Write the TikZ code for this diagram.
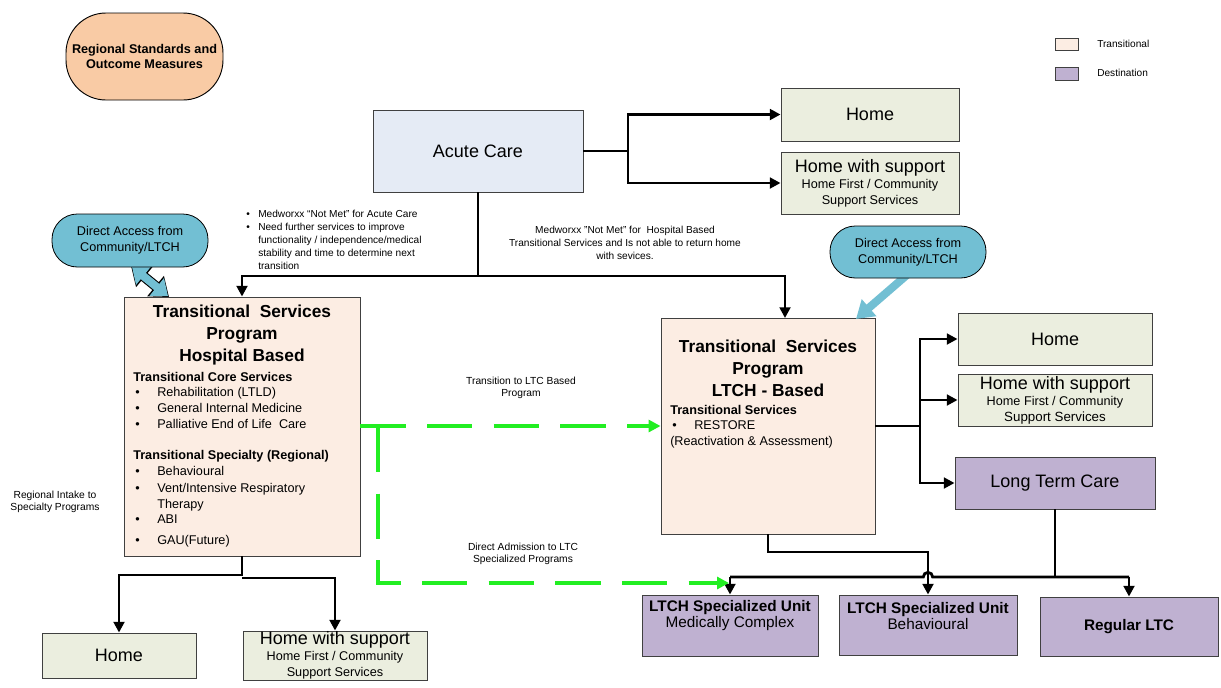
\documentclass[tikz,border=0pt]{standalone}
\usepackage{fontspec}
\setmainfont{Liberation Sans}
\usetikzlibrary{arrows.meta}
\definecolor{peach}{HTML}{F9CBA5}
\definecolor{transfill}{HTML}{FCEDE3}
\definecolor{acutefill}{HTML}{E5EBF5}
\definecolor{homefill}{HTML}{EBEEDF}
\definecolor{destfill}{HTML}{BFB1D1}
\definecolor{bubble}{HTML}{72BFD3}
\definecolor{edge}{HTML}{404040}
\definecolor{dashgreen}{HTML}{22EE22}
\tikzset{
 box/.style={draw=edge, line width=0.7pt, inner sep=0pt, align=center},
 transbox/.style={box, fill=transfill},
 acutebox/.style={box, fill=acutefill},
 homebox/.style={box, fill=homefill},
 destbox/.style={box, fill=destfill},
 bubblebox/.style={draw=black, line width=0.6pt, fill=bubble, rounded corners=19pt, inner sep=0pt, align=center, font=\fontsize{9.5}{12}\selectfont, minimum width=117pt},
 bigtext/.style={font=\fontsize{13.5}{16}\selectfont},
 titletext/.style={font=\bfseries\fontsize{13}{16.5}\selectfont, align=center, inner sep=0pt},
 itemtext/.style={inner sep=0pt, anchor=base west, font=\fontsize{9.5}{12}\selectfont},
 headtext/.style={itemtext, font=\bfseries\fontsize{9.5}{12}\selectfont},
 smalltext/.style={inner sep=0pt, font=\fontsize{7.7}{9}\selectfont, align=center},
 notetext/.style={inner sep=0pt, font=\fontsize{7.6}{9.75}\selectfont, align=center},
 smallleft/.style={inner sep=0pt, anchor=base west, font=\fontsize{7.6}{9.75}\selectfont},
 legendtext/.style={inner sep=0pt, anchor=west, font=\fontsize{7.6}{9}\selectfont},
 conn/.style={line width=2.1pt, draw=black},
 flow/.style={conn, -{Triangle[length=8pt,width=8pt]}},
 gline/.style={draw=dashgreen, line width=2.3pt, dash pattern=on 34pt off 16pt},
 gflow/.style={gline, -{Triangle[length=9pt,width=9pt]}},
}
\begin{document}
\begin{tikzpicture}[x=0.75pt,y=-0.75pt]
\fill[white] (0,0) rectangle (1221,687);
\useasboundingbox (0,0) rectangle (1221,687);

% ---------- top left
\node[box, draw=black, fill=peach, rounded corners=30pt, minimum width=117.75pt, minimum height=65.25pt, font=\bfseries\fontsize{9.5}{11.25}\selectfont] (std) at (144.5,56.5) {Regional Standards and\\Outcome Measures};

% ---------- legend
\node[transbox, minimum width=17.25pt, minimum height=9pt] (legT) at (1066.5,44) {};
\node[legendtext] (legTt) at (1097,44) {Transitional};
\node[destbox, minimum width=17.25pt, minimum height=9.75pt] (legD) at (1066.5,73.5) {};
\node[legendtext] (legDt) at (1097,73) {Destination};

% ---------- acute care and top right
\node[acutebox, minimum width=157.5pt, minimum height=61.5pt, bigtext] (acute) at (478,151) {Acute Care};
\node[homebox, minimum width=133.5pt, minimum height=39.75pt, bigtext] (home1) at (870,114.5) {Home};
\node[homebox, minimum width=133.5pt, minimum height=46.5pt] (hws1) at (870,183) {\fontsize{13.5}{16}\selectfont Home with support\\\fontsize{9.5}{12.75}\selectfont Home First / Community\\\fontsize{9.5}{15}\selectfont Support Services};

% ---------- notes
\node[smallleft] (n1b) at (246,217) {\textbullet};
\node[smallleft] (n1) at (258,217) {Medworxx “Not Met” for Acute Care};
\node[smallleft] (n2b) at (246,230) {\textbullet};
\node[smallleft] (n2) at (258,230) {Need further services to improve};
\node[smallleft] (n3) at (258,243) {functionality / independence/medical};
\node[smallleft] (n4) at (258,256) {stability and time to determine next};
\node[smallleft] (n5) at (258,269) {transition};
\node[notetext] (mnote) at (625,243) {Medworxx "Not Met" for~ Hospital Based\\Transitional Services and Is not able to return home\\with sevices.};

% ---------- hospital based program
\node[transbox, minimum width=177pt, minimum height=194.25pt] (hosp) at (242,426.5) {};
\node[titletext] (hospT) at (242,335) {Transitional~~Services\\Program\\Hospital Based};
\node[headtext] (hh1) at (133,381) {Transitional Core Services};
\node[itemtext] (hb1) at (135,396) {\textbullet};
\node[itemtext] (hi1) at (157,396) {Rehabilitation (LTLD)};
\node[itemtext] (hb2) at (135,412) {\textbullet};
\node[itemtext] (hi2) at (157,412) {General Internal Medicine};
\node[itemtext] (hb3) at (135,428) {\textbullet};
\node[itemtext] (hi3) at (157,428) {Palliative End of Life~ Care};
\node[headtext] (hh2) at (133,459) {Transitional Specialty (Regional)};
\node[itemtext] (hb4) at (135,475) {\textbullet};
\node[itemtext] (hi4) at (157,475) {Behavioural};
\node[itemtext] (hb5) at (135,492) {\textbullet};
\node[itemtext] (hi5) at (157,492) {Vent/Intensive Respiratory};
\node[itemtext] (hi5b) at (157,508) {Therapy};
\node[itemtext] (hb6) at (135,523) {\textbullet};
\node[itemtext] (hi6) at (157,523) {ABI};
\node[itemtext] (hb7) at (135,544) {\textbullet};
\node[itemtext] (hi7) at (157,544) {GAU(Future)};

\node[smalltext] (intake) at (55,502) {Regional Intake to\\Specialty Programs};

% ---------- LTCH based program
\node[transbox, minimum width=160.5pt, minimum height=162pt] (ltch) at (768,426) {};
\node[titletext] (ltchT) at (768,368) {Transitional~~Services\\Program\\LTCH - Based};
\node[headtext] (lh1) at (670,414) {Transitional Services};
\node[itemtext] (lb1) at (672,429) {\textbullet};
\node[itemtext] (li1) at (694,429) {RESTORE};
\node[itemtext] (li2) at (670,445) {(Reactivation \& Assessment)};

% ---------- right destinations
\node[homebox, minimum width=145.5pt, minimum height=39pt, bigtext] (home2) at (1055,339) {Home};
\node[homebox, minimum width=145.5pt, minimum height=39pt] (hws2) at (1055,400) {\fontsize{13.5}{16}\selectfont Home with support\\\fontsize{9.5}{12}\selectfont Home First / Community\\Support Services};
\node[destbox, minimum width=150pt, minimum height=39pt, bigtext] (ltc) at (1055,483) {Long Term Care};

% ---------- bottom destinations
\node[destbox, minimum width=132pt, minimum height=45.75pt] (spec1) at (730,625.5) {};
\node[align=center, inner sep=0pt] (spec1t) at (730,616) {\bfseries\fontsize{11.5}{14}\selectfont LTCH Specialized Unit\\\mdseries\fontsize{11.5}{14.5}\selectfont Medically Complex};
\node[destbox, minimum width=133.5pt, minimum height=45pt] (spec2) at (928,625) {};
\node[align=center, inner sep=0pt] (spec2t) at (928,616) {\bfseries\fontsize{11.5}{14}\selectfont LTCH Specialized Unit\\\mdseries\fontsize{11.5}{14.5}\selectfont Behavioural};
\node[destbox, minimum width=133.5pt, minimum height=44.25pt, font=\bfseries\fontsize{11.5}{14}\selectfont] (spec3) at (1129,626.5) {Regular LTC};

\node[homebox, minimum width=115.5pt, minimum height=33.75pt, bigtext] (home3) at (119,655.5) {Home};
\node[homebox, minimum width=138pt, minimum height=36.75pt] (hws3) at (335,655.5) {\fontsize{13.5}{16}\selectfont Home with support\\\fontsize{9.5}{12.75}\selectfont Home First / Community\\\fontsize{9.5}{12}\selectfont Support Services};

% ---------- labels on green paths
\node[smalltext] (lab1) at (521,388) {Transition to LTC Based\\Program};
\node[smalltext] (lab2) at (523,554) {Direct Admission to LTC\\Specialized Programs};

% ---------- connectors
\coordinate (aj) at (628,151);
\draw[conn] (acute.east) -- (aj);
\draw[flow] (aj) |- (home1.west);
\draw[flow] (aj) |- (hws1.west);

\coordinate (bj) at (478,276);
\coordinate (ltchin) at (785,318);
\draw[conn] (acute.south) -- (bj);
\draw[flow] (bj) -| (hosp.north);
\draw[flow] (bj) -| (ltchin);

\coordinate (rj) at (920,426);
\draw[conn] (ltch.east |- rj) -- (rj);
\draw[flow] (rj) |- (home2.west);
\draw[flow] (rj) |- (hws2.west);
\draw[flow] (rj) |- (ltc.west);

\coordinate (hj1) at (242,575);
\coordinate (hj2) at (242,578);
\draw[flow] (hosp.south) -- (hj1) -| (home3.north);
\draw[flow] (hj2) -| (hws3.north);

\coordinate (lj) at (768,552);
\coordinate (bl) at (730,577);
\coordinate (br) at (1129,577);
\coordinate (hopstart) at (923.3,577);
\draw[conn] (ltc.south) -- (ltc.south |- bl);
\draw[conn] (bl) -- (hopstart) arc[start angle=180,end angle=0,radius=3.5pt] -- (br);
\draw[flow] (bl) -- (spec1.north);
\draw[flow] (br) -- (spec3.north);
\draw[flow] (ltch.south) -- (lj) -| (spec2.north);

% green dashed
\coordinate (gj) at (378,427);
\coordinate (gend) at (729,583);
\draw[gflow] (hosp.east |- ltch.west) -- (ltch.west);
\draw[gflow] (gj) |- (gend);

% blue block arrows
\coordinate (ba1) at (131,266);
\coordinate (ba2) at (169,297);
\draw[line width=7.6pt, black, {Triangle[length=13pt,width=19pt]}-{Triangle[length=13pt,width=19pt]}] (ba1) -- (ba2);
\draw[line width=6pt, bubble, shorten <=0.9pt, shorten >=0.9pt, {Triangle[length=11pt,width=16.5pt]}-{Triangle[length=11pt,width=16.5pt]}] (ba1) -- (ba2);
\coordinate (bb1) at (908,274);
\coordinate (bb2) at (856,319);
\draw[line width=6pt, bubble, -{Triangle[length=13pt,width=16pt]}] (bb1) -- (bb2);

% bubbles
\node[bubblebox, minimum height=39.75pt] (da1) at (130,240.5) {Direct Access from\\Community/LTCH};
\node[bubblebox, minimum height=39pt] (da2) at (908,252) {Direct Access from\\Community/LTCH};
\end{tikzpicture}
\end{document}
